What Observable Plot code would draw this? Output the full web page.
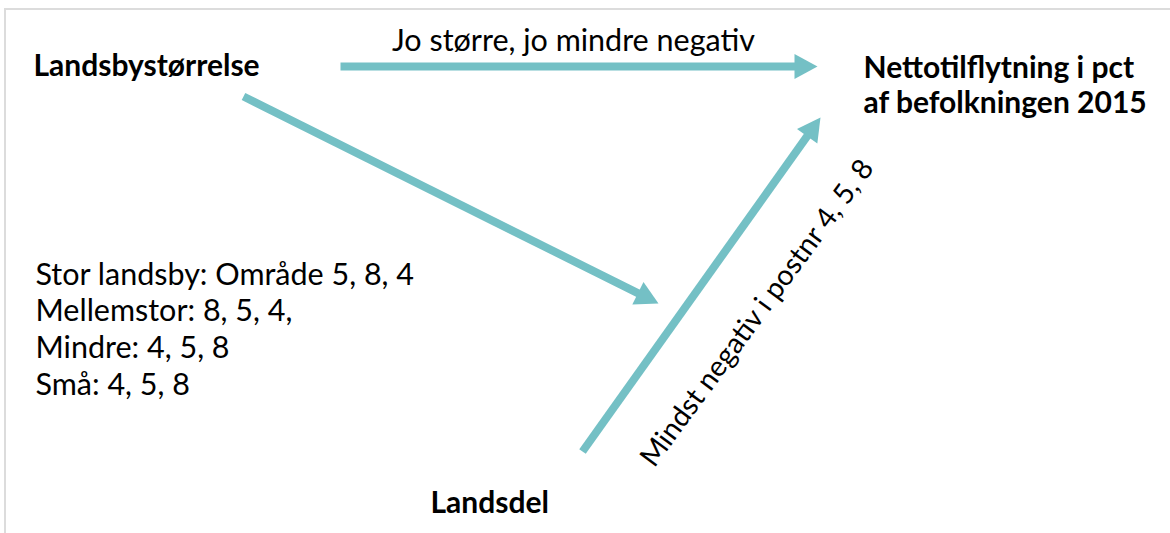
<!DOCTYPE html>
<html>
<head>
<meta charset="utf-8">
<script src="https://cdn.jsdelivr.net/npm/d3@7"></script>
<script src="https://cdn.jsdelivr.net/npm/@observablehq/plot@0.6"></script>
<style>
  html, body { margin: 0; padding: 0; background: #fff; }
  #frame { position: absolute; left: 4px; top: 8px; right: 0; bottom: 0;
           border-top: 2px solid #dcdcdc; border-left: 2px solid #dcdcdc; }
  #chart { position: absolute; left: 0; top: 0; }
  svg text { font-family: Lato, "Open Sans", sans-serif; }
</style>
</head>
<body>
<div id="frame"></div>
<div id="chart"></div>
<script>
// ---- Content ----
const nodeLabels = ["Landsbystørrelse", "Nettotilflytning i pct\naf befolkningen 2015", "Landsdel"];
const nodeX = [33, 863, 430];          // left edge of label
const nodeY = [75, 112, 512];          // baseline of last line

const noteLines = ["Stor landsby: Område 5, 8, 4", "Mellemstor: 8, 5, 4,", "Mindre: 4, 5, 8", "Små: 4, 5, 8"];
const noteX = 35, noteY0 = 284, noteStep = 36.7;

// arrows: start and tip points
const arrowStartX = [340, 243, 582];
const arrowStartY = [66, 96, 451];
const arrowTipX   = [817, 658, 820];
const arrowTipY   = [66, 303, 117];

// arrow labels
const arrowLabels = ["Jo større, jo mindre negativ", "Mindst negativ i postnr 4, 5, 8"];
const arrowLabelX = [573, 764];
const arrowLabelY = [50, 318];
const arrowLabelRotate = [0, -53.7];
const arrowLabelSize = [30.5, 28.5];

const teal = "#74c0c5";
const ink = "#000";
const W = 1170, H = 533;
const boldSize = 30, regSize = 30.5;

// ---- Build tables ----
const nodes = nodeLabels.map((label, i) => ({label, x: nodeX[i], y: nodeY[i]}));
const notes = noteLines.map((label, i) => ({label, x: noteX, y: noteY0 + i * noteStep}));
const headLen = 23, headW = 25;
const shafts = [], heads = [];
arrowStartX.forEach((_, i) => {
  const sx = arrowStartX[i], sy = arrowStartY[i], tx = arrowTipX[i], ty = arrowTipY[i];
  const L = Math.hypot(tx - sx, ty - sy);
  const ux = (tx - sx) / L, uy = (ty - sy) / L;
  const nx = -uy, ny = ux;
  const bx = tx - headLen * ux, by = ty - headLen * uy;
  shafts.push({x1: sx, y1: sy, x2: bx + ux, y2: by + uy});
  heads.push({id: i, x: bx + nx * headW / 2, y: by + ny * headW / 2});
  heads.push({id: i, x: tx, y: ty});
  heads.push({id: i, x: bx - nx * headW / 2, y: by - ny * headW / 2});
});
const labels = arrowLabels.map((label, i) => ({label, x: arrowLabelX[i], y: arrowLabelY[i], r: arrowLabelRotate[i]}));

const chart = Plot.plot({
  width: W, height: H,
  margin: 0,
  x: {type: "identity", axis: null},
  y: {type: "identity", axis: null},
  marks: [
    Plot.link(shafts, {x1: "x1", y1: "y1", x2: "x2", y2: "y2", stroke: teal, strokeWidth: 8, strokeLinecap: "butt"}),
    Plot.line(heads, {x: "x", y: "y", z: "id", fill: teal, stroke: "none"}),
    Plot.text(nodes, {x: "x", y: "y", text: "label", textAnchor: "start", lineAnchor: "bottom",
      fontSize: boldSize, fontWeight: "bold", fill: ink, lineHeight: 35 / boldSize}),
    Plot.text(notes, {x: "x", y: "y", text: "label", textAnchor: "start", lineAnchor: "bottom",
      fontSize: regSize, fill: ink}),
    ...labels.map((d, i) => Plot.text([d], {x: "x", y: "y", text: "label", rotate: "r", textAnchor: "middle",
      lineAnchor: "bottom", fontSize: arrowLabelSize[i], fill: ink}))
  ]
});
chart.style.background = "transparent";
document.getElementById("chart").append(chart);
</script>
</body>
</html>
